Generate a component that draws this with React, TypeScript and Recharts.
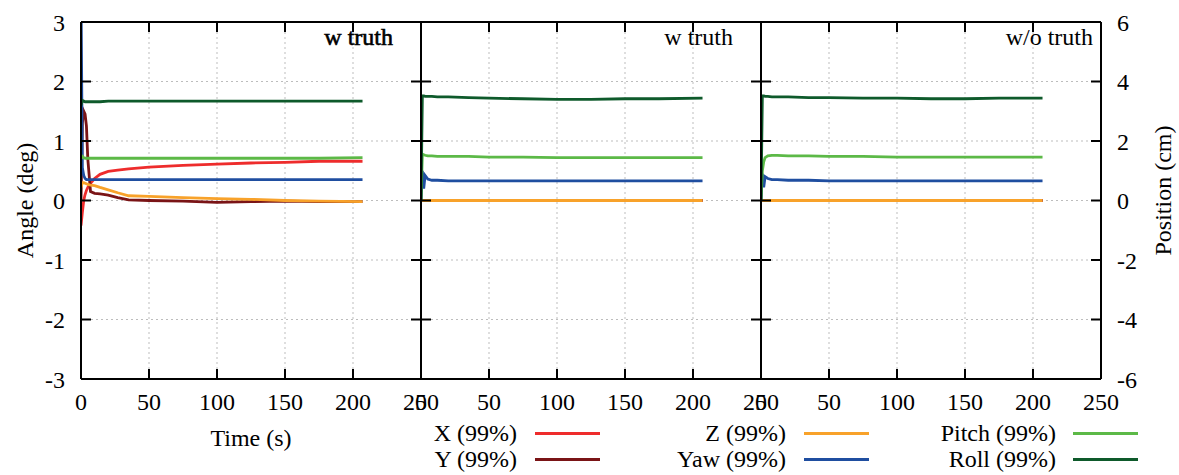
import { LineChart, Line, XAxis, YAxis, CartesianGrid, Legend } from 'recharts'

// time (s)
const firstTime = [0, 1, 2, 3, 4, 5, 7, 10, 14, 20, 27, 35, 50, 75, 100, 125, 150, 175, 207]
const laterTime = [0, 1, 2, 3, 5, 8, 12, 20, 35, 50, 75, 100, 125, 150, 175, 207]

// panel 1, w truth (X/Y/Z in cm, angles in deg)
const p1X = [-0.84, -0.4, 0, 0.2, 0.34, 0.44, 0.58, 0.74, 0.88, 0.98, 1.02, 1.06, 1.12, 1.18, 1.22, 1.26, 1.28, 1.32, 1.32]
const p1Y = [0, 2.6, 3.0, 2.9, 2.5, 1.4, 0.3, 0.24, 0.22, 0.18, 0.1, 0.02, 0, -0.02, -0.06, -0.04, -0.02, -0.04, -0.04]
const p1Z = [0.44, 0.6, 0.6, 0.58, 0.56, 0.54, 0.52, 0.5, 0.44, 0.36, 0.26, 0.16, 0.14, 0.1, 0.06, 0.04, 0, -0.02, -0.04]
const p1Yaw = [3.5, 0.55, 0.42, 0.37, 0.35, 0.35, 0.35, 0.35, 0.35, 0.35, 0.35, 0.35, 0.35, 0.35, 0.35, 0.35, 0.35, 0.35, 0.35]
const p1Pitch = [0.7, 0.74, 0.72, 0.71, 0.71, 0.71, 0.71, 0.71, 0.71, 0.71, 0.71, 0.71, 0.71, 0.71, 0.71, 0.71, 0.71, 0.71, 0.72]
const p1Roll = [1.6, 1.68, 1.67, 1.66, 1.66, 1.66, 1.66, 1.66, 1.66, 1.67, 1.67, 1.67, 1.67, 1.67, 1.67, 1.67, 1.67, 1.67, 1.67]

// panel 2, w truth
const p2X = [0, 0, 0, 0, 0, 0, 0, 0, 0, 0, 0, 0, 0, 0, 0, 0]
const p2Y = [0, 0, 0, 0, 0, 0, 0, 0, 0, 0, 0, 0, 0, 0, 0, 0]
const p2Z = [0, 0, 0, 0, 0, 0, 0, 0, 0, 0, 0, 0, 0, 0, 0, 0]
const p2Yaw = [0, 0.5, 0.2, 0.42, 0.36, 0.34, 0.34, 0.33, 0.33, 0.33, 0.33, 0.33, 0.33, 0.33, 0.33, 0.33]
const p2Pitch = [0, 0.78, 0.77, 0.76, 0.75, 0.75, 0.74, 0.74, 0.74, 0.73, 0.73, 0.72, 0.72, 0.72, 0.72, 0.72]
const p2Roll = [0, 1.76, 1.76, 1.75, 1.75, 1.75, 1.74, 1.74, 1.73, 1.72, 1.71, 1.7, 1.7, 1.71, 1.71, 1.72]

// panel 3, w/o truth
const p3X = [0, 0, 0, 0, 0, 0, 0, 0, 0, 0, 0, 0, 0, 0, 0, 0]
const p3Y = [0, 0, 0, 0, 0, 0, 0, 0, 0, 0, 0, 0, 0, 0, 0, 0]
const p3Z = [0, 0, 0, 0, 0, 0, 0, 0, 0, 0, 0, 0, 0, 0, 0, 0]
const p3Yaw = [0, 0.45, 0.22, 0.4, 0.37, 0.35, 0.35, 0.34, 0.34, 0.33, 0.33, 0.33, 0.33, 0.33, 0.33, 0.33]
const p3Pitch = [0, 0.5, 0.65, 0.72, 0.75, 0.76, 0.76, 0.75, 0.75, 0.74, 0.74, 0.73, 0.73, 0.73, 0.73, 0.73]
const p3Roll = [0, 1.76, 1.76, 1.75, 1.75, 1.74, 1.74, 1.74, 1.73, 1.73, 1.72, 1.72, 1.71, 1.71, 1.72, 1.72]

const seriesKeys = ['x', 'y', 'z', 'yaw', 'pitch', 'roll']
const seriesNames = ['X (99%)', 'Y (99%)', 'Z (99%)', 'Yaw (99%)', 'Pitch (99%)', 'Roll (99%)']
const seriesColors = ['#ee2c2c', '#7a1416', '#f8a22a', '#1f4ea0', '#5cb947', '#0e5a2b']
const seriesAxis = ['pos', 'pos', 'pos', 'ang', 'ang', 'ang']

const timeTicks = [0, 50, 100, 150, 200, 250]
const angleTicks = [-3, -2, -1, 0, 1, 2, 3]
const positionTicks = [-6, -4, -2, 0, 2, 4, 6]

const panelTitles = ['w truth', 'w truth', 'w/o truth']

const buildRows = (time: number[], cols: number[][]) =>
  time.map((t, i) => {
    const row: Record<string, number> = { t }
    seriesKeys.forEach((k, j) => (row[k] = cols[j][i]))
    return row
  })

const panelRows = [
  buildRows(firstTime, [p1X, p1Y, p1Z, p1Yaw, p1Pitch, p1Roll]),
  buildRows(laterTime, [p2X, p2Y, p2Z, p2Yaw, p2Pitch, p2Roll]),
  buildRows(laterTime, [p3X, p3Y, p3Z, p3Yaw, p3Pitch, p3Roll]),
]

// the generic family resolves to a Times-like face here
const FONT = 'serif'
const FS = 24
const PLOT_TOP = 22
const PLOT_H = 357
const PLOT_W = 340
const CHART_H = 475
const X_AXIS_H = CHART_H - PLOT_TOP - PLOT_H

const axisStroke = { stroke: '#000', strokeWidth: 2 }
const tickStyle = { fill: '#000', fontSize: FS, fontFamily: FONT }
const blank = () => ''

interface PanelProps {
  index: number
  plotLeft: number
  leftW: number
  rightW: number
  titleInset: number
}

function Panel({ index, plotLeft, leftW, rightW, titleInset }: PanelProps) {
  const first = index === 0
  const last = index === 2

  const titleLabel = (props: any) => {
    const { x, y, width } = props.viewBox
    return (
      <text
        x={x + width - titleInset}
        y={y + 24}
        textAnchor="end"
        fontSize={FS}
        fontFamily={FONT}
        fill="#000"
        stroke={first ? '#000' : 'none'}
        strokeWidth={first ? 0.6 : 0}
      >
        {panelTitles[index]}
      </text>
    )
  }
  const timeLabel = (props: any) => {
    const { x, y, width } = props.viewBox
    return (
      <text x={x + width / 2} y={y + 67} textAnchor="middle" fontSize={FS} fontFamily={FONT} fill="#000">
        Time (s)
      </text>
    )
  }
  const angleLabel = (props: any) => {
    const { x, y, height } = props.viewBox
    const cx = x + 25
    const cy = y + height / 2
    return (
      <text
        x={cx}
        y={cy}
        transform={`rotate(-90 ${cx} ${cy})`}
        textAnchor="middle"
        dominantBaseline="central"
        fontSize={FS}
        fontFamily={FONT}
        fill="#000"
      >
        Angle (deg)
      </text>
    )
  }
  const positionLabel = (props: any) => {
    const { x, y, height } = props.viewBox
    const cx = x + 62
    const cy = y + height / 2 - 10
    return (
      <text
        x={cx}
        y={cy}
        transform={`rotate(-90 ${cx} ${cy})`}
        textAnchor="middle"
        dominantBaseline="central"
        fontSize={FS}
        fontFamily={FONT}
        fill="#000"
      >
        Position (cm)
      </text>
    )
  }

  // legend block, three columns of two entries
  const legendLeft = 400
  const colTextRight = [117, 386, 656]
  const colLine = [135, 404, 673]
  const rowMid = [15, 41]
  const legendContent = (props: any) => {
    const payload = [...(props.payload || [])].sort(
      (a: any, b: any) => seriesKeys.indexOf(a.dataKey) - seriesKeys.indexOf(b.dataKey)
    )
    return (
      <div style={{ position: 'relative', width: 760, height: 56, fontFamily: FONT, fontSize: FS, color: '#000' }}>
        {payload.map((p: any, i: number) => {
          const col = Math.floor(i / 2)
          const row = i % 2
          return (
            <div key={i}>
              <div
                style={{
                  position: 'absolute',
                  right: 760 - colTextRight[col],
                  top: rowMid[row] - 14,
                  lineHeight: '28px',
                  whiteSpace: 'nowrap',
                }}
              >
                {p.value}
              </div>
              <div
                style={{
                  position: 'absolute',
                  left: colLine[col],
                  top: rowMid[row] - 1,
                  width: 65,
                  height: 2.5,
                  background: p.color,
                }}
              />
            </div>
          )
        })}
      </div>
    )
  }

  return (
    <div style={{ position: 'absolute', left: plotLeft - leftW, top: 0 }}>
      <LineChart
        width={leftW + PLOT_W + rightW}
        height={CHART_H}
        data={panelRows[index]}
        margin={{ top: PLOT_TOP - 1, right: 0, bottom: 0, left: 0 }}
      >
        <CartesianGrid xAxisId="b" yAxisId="ang" stroke="#bdbdbd" strokeDasharray="2 3" />
        <XAxis
          xAxisId="b"
          dataKey="t"
          type="number"
          domain={[0, 250]}
          ticks={timeTicks}
          interval={0}
          allowDataOverflow
          height={X_AXIS_H}
          tickSize={-10}
          tickMargin={24}
          tick={tickStyle}
          axisLine={axisStroke}
          tickLine={axisStroke}
          label={first ? timeLabel : undefined}
        />
        <XAxis
          xAxisId="top"
          orientation="top"
          dataKey="t"
          type="number"
          domain={[0, 250]}
          ticks={timeTicks}
          interval={0}
          height={1}
          tickSize={-10}
          tickFormatter={blank}
          axisLine={axisStroke}
          tickLine={axisStroke}
          label={titleLabel}
        />
        <YAxis
          yAxisId="ang"
          type="number"
          domain={[-3, 3]}
          ticks={angleTicks}
          interval={0}
          allowDataOverflow
          width={leftW}
          tickSize={-10}
          tickMargin={26}
          tick={tickStyle}
          tickFormatter={first ? undefined : blank}
          axisLine={axisStroke}
          tickLine={axisStroke}
          label={first ? angleLabel : undefined}
        />
        <YAxis
          yAxisId="pos"
          orientation="right"
          type="number"
          domain={[-6, 6]}
          ticks={positionTicks}
          interval={0}
          allowDataOverflow
          width={rightW}
          tickSize={-10}
          tickMargin={26}
          tick={tickStyle}
          tickFormatter={last ? undefined : blank}
          axisLine={axisStroke}
          tickLine={axisStroke}
          label={last ? positionLabel : undefined}
        />
        {seriesKeys.map((k, j) => (
          <Line
            key={k}
            xAxisId="b"
            yAxisId={seriesAxis[j]}
            type="linear"
            dataKey={k}
            name={seriesNames[j]}
            stroke={seriesColors[j]}
            strokeWidth={2.8}
            dot={false}
            activeDot={false}
            isAnimationActive={false}
          />
        ))}
        {first && (
          <Legend
            layout="horizontal"
            verticalAlign="middle"
            align="center"
            content={legendContent}
            wrapperStyle={{ left: legendLeft, top: 418, width: 760, height: 56 }}
          />
        )}
      </LineChart>
    </div>
  )
}

export default function App() {
  return (
    <div
      style={{
        position: 'absolute',
        left: 0,
        top: 0,
        width: 1179,
        height: 475,
        background: '#fff',
        fontFamily: FONT,
        overflow: 'hidden',
      }}
    >
      <Panel index={0} plotLeft={81} leftW={81} rightW={30} titleInset={28} />
      <Panel index={1} plotLeft={421} leftW={10} rightW={30} titleInset={28} />
      <Panel index={2} plotLeft={761} leftW={10} rightW={78} titleInset={8} />
    </div>
  )
}
